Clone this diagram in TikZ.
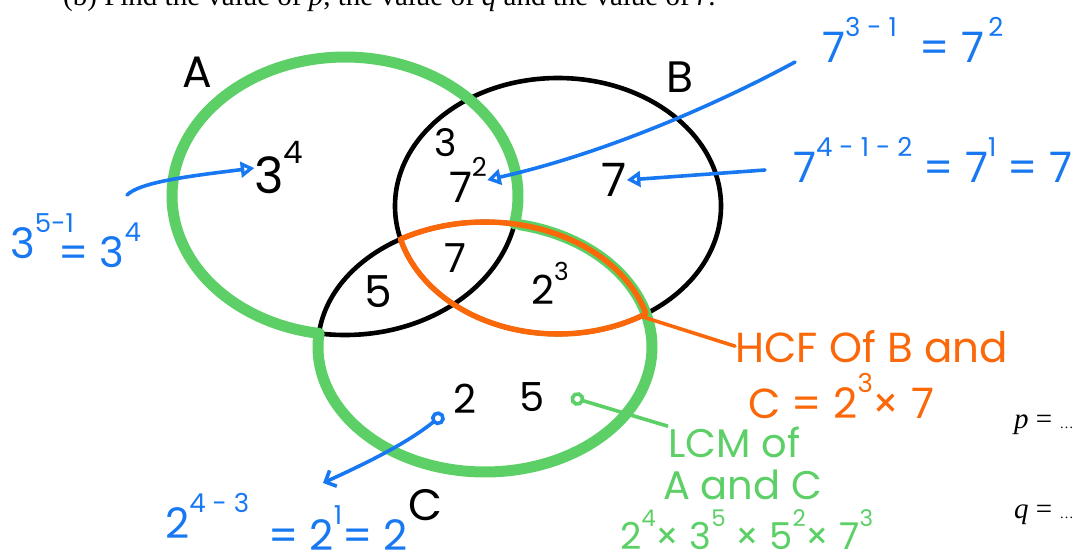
\documentclass[tikz,border=0pt]{standalone}
\usepackage{fontspec}
\setmainfont{Poppins}
\newfontfamily\printfont{Liberation Serif}
\usepackage{tikz}
\usetikzlibrary{arrows.meta, positioning}
\definecolor{penblue}{RGB}{24, 120, 242}
\definecolor{penorange}{RGB}{250, 104, 10}
\definecolor{pengreen}{RGB}{92, 208, 102}
\newcommand{\powr}[1]{\raisebox{0.6em}{\scalebox{0.62}{#1}}}

\begin{document}
\begin{tikzpicture}[x=1pt, y=-1pt,
    setline/.style={black, line width=4.6pt},
    greenpen/.style={pengreen, line width=11pt, line cap=round, line join=round},
    orangepen/.style={penorange, line width=5.5pt, line cap=round, line join=round},
    bluepen/.style={penblue, line width=3.6pt, line cap=round},
    regionnum/.style={font=\fontsize{44}{44}\selectfont, inner sep=0pt},
    note/.style={font=\fontsize{42}{42}\selectfont, inner sep=0pt, anchor=base west},
    printed/.style={font=\printfont\fontsize{29}{29}\selectfont, inner sep=0pt, anchor=base west}]
    \useasboundingbox (0,0) rectangle (1085,558);
    \clip (0,0) rectangle (1085,558);

    % Question line (cut at the top)
    \node[printed] (question) at (63,5) {(b) Find the value of \textit{p}, the value of \textit{q} and the value of \textit{r}.};

    % Three sets
    \draw[setline] (345,196) ellipse[x radius=173, y radius=139];
    \draw[setline] (558,206) ellipse[x radius=163, y radius=128];
    \draw[setline] (485,347) ellipse[x radius=167, y radius=125];

    % LCM of A and C: outline of the union
    \draw[greenpen] plot[domain=98.6:371.6, samples=90, smooth] ({345+173*cos(\x)}, {196+139*sin(\x)});
    \draw[greenpen] plot[domain=282:546.3, samples=90, smooth] ({485+167*cos(\x)}, {347+125*sin(\x)});

    % HCF of B and C: the lens
    \draw[orangepen] plot[domain=239.6:344.6, samples=50, smooth] ({485+167*cos(\x)}, {347+125*sin(\x)})
        -- plot[domain=57.3:165, samples=50, smooth] ({558+163*cos(\x)}, {206+128*sin(\x)}) -- cycle;

    % Set names
    \node[regionnum] (laba) at (197,72) {A};
    \node[regionnum] (labb) at (680,77) {B};
    \node[regionnum] (labc) at (425,505) {C};

    % Regions
    \node[regionnum, font=\fontsize{50}{50}\selectfont] (aonly) at (279,168) {3\powr{4}};
    \node[regionnum, font=\fontsize{38}{38}\selectfont] (abthree) at (446,143) {3};
    \node[regionnum, font=\fontsize{42}{42}\selectfont] (absev) at (468,180) {7\powr{2}};
    \node[regionnum, font=\fontsize{46}{46}\selectfont] (bonly) at (614,180) {7};
    \node[regionnum] (aconly) at (378,292) {5};
    \node[regionnum, font=\fontsize{40}{40}\selectfont] (abc) at (455,258) {7};
    \node[regionnum, font=\fontsize{40}{40}\selectfont] (bconly) at (550,283) {2\powr{3}};
    \node[regionnum, font=\fontsize{40}{40}\selectfont] (conlytwo) at (465,399) {2};
    \node[regionnum, font=\fontsize{40}{40}\selectfont] (conlyfive) at (532,397) {5};

    % Blue working
    \node[note, penblue] (notea1) at (10,258) {3\powr{5-1}};
    \node[note, penblue] (notea2) at (58,267) {= 3\powr{4}};
    \node[note, penblue] (noteab) at (822,62) {7\powr{3 - 1}\ \ = 7\powr{\,2}};
    \node[note, penblue] (noteb) at (793,182) {7\powr{4 - 1 - 2}\ = 7\powr{1} = 7};
    \node[note, penblue] (notec1) at (165,538) {2\powr{4 - 3}};
    \node[note, penblue] (notec2) at (268,550) {= 2\powr{1}= 2};

    \coordinate (taila) at (127,195);
    \coordinate (tailab) at (795,62);
    \coordinate (tailb) at (765,170);
    \coordinate (tipc) at (323,483);
    \draw[bluepen, -{Triangle[open]}] (taila) .. controls (140,182) and (190,176) .. (aonly.west);
    \draw[bluepen, -{Triangle[open]}] (tailab) .. controls (740,92) and (620,150) .. (absev.east);
    \draw[bluepen, -{Triangle[open]}] (tailb) -- (bonly.east);
    \draw[bluepen, {Circle[open]}-{Straight Barb}] ([xshift=-10pt]conlytwo.south west) .. controls (405,445) and (360,466) .. (tipc);

    % Orange note
    \node[note, penorange] (hcf1) at (735,362) {HCF Of B and};
    \node[note, penorange] (hcf2) at (748,418) {C = 2\powr{3}× 7};
    \coordinate (hcftip) at (640,316);
    \draw[orangepen, line width=3.6pt] (hcftip) -- (hcf1.west);

    % Green note
    \node[note, pengreen, font=\fontsize{40}{40}\selectfont] (lcm1) at (668,457) {LCM of};
    \node[note, pengreen, font=\fontsize{40}{40}\selectfont] (lcm2) at (663,499) {A and C};
    \node[note, pengreen, font=\fontsize{37}{37}\selectfont] (lcm3) at (620,549) {2\powr{4}× 3\powr{5}\ × 5\powr{2}× 7\powr{3}};
    \draw[pengreen, line width=3.6pt, {Circle[open]}-] ([xshift=26pt]conlyfive.east) -- (lcm1.north west);

    % Answer lines
    \node[printed] (pline) at (1014,428) {\textit{p} = {\fontsize{14}{14}\selectfont\dots}};
    \node[printed] (qline) at (1014,518) {\textit{q} = {\fontsize{14}{14}\selectfont\dots}};
\end{tikzpicture}
\end{document}
